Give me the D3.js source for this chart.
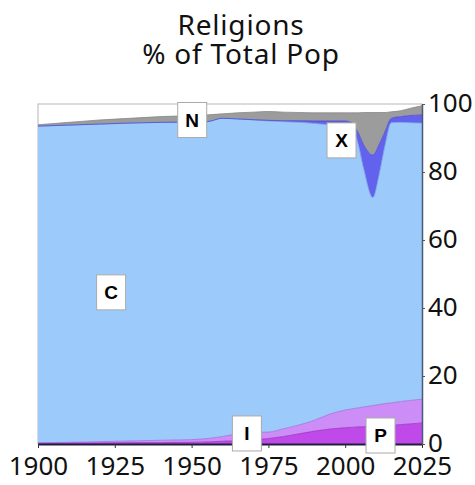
<!DOCTYPE html>
<html><head><meta charset="utf-8">
<script src="https://cdn.jsdelivr.net/npm/d3@7"></script>
<style>body{margin:0;background:#fff}svg{display:block}</style>
</head><body>
<script>
const years = [1900,1910,1920,1930,1940,1950,1955,1960,1965,1970,1975,1980,1985,1990,1995,2000,2002,2004,2006,2009,2011,2013,2015,2018,2021,2025];
// cumulative tops
const pTop = [0.2,0.3,0.3,0.4,0.4,0.5,0.6,0.8,1.0,1.2,1.6,2.2,3.0,3.8,4.4,4.8,4.9,5.0,5.1,5.2,5.3,5.4,5.5,5.7,5.9,6.2];
const iTop = [0.4,0.5,0.7,0.9,1.1,1.3,1.6,2.2,3.0,3.4,3.5,4.5,5.6,7.0,8.8,10.0,10.3,10.6,10.9,11.3,11.6,11.9,12.1,12.5,12.8,13.2];
const cTop = [93.5,93.8,94.1,94.4,94.6,94.7,94.8,95.8,95.6,95.3,95.0,94.8,94.6,94.3,93.9,93.6,93.2,89.0,81.0,72.5,79.0,88.0,94.5,94.6,94.5,94.4];
const xTop = [93.5,93.8,94.1,94.4,94.6,94.7,94.8,95.8,95.6,95.4,95.2,95.1,95.1,95.0,95.0,95.0,94.6,92.0,88.0,85.0,88.0,92.0,95.8,96.3,96.6,96.8];
const nTop = [93.9,94.6,95.3,95.8,96.3,96.6,96.8,97.1,97.4,97.6,97.8,97.6,97.5,97.4,97.4,97.4,97.4,97.4,97.5,97.5,97.5,97.5,97.7,98.0,98.7,99.5];
const keys = ["P","I","C","X","N"];
const xTicks = [1900,1925,1950,1975,2000,2025];
const yTicks = [0,20,40,60,80,100];
const labels = [
  {t:"N", year:1950.2, v:95.3},
  {t:"X", year:1998.8, v:89.3},
  {t:"C", year:1923.8, v:44.6},
  {t:"I", year:1968, v:3.1},
  {t:"P", year:2011.5, v:2.5}
];

const W=475,H=485;
const m={l:38,r:53,t:104,b:41};
const svg=d3.select("body").append("svg").attr("width",W).attr("height",H);
const x=d3.scaleLinear().domain([1900,2025]).range([m.l,W-m.r]);
const y=d3.scaleLinear().domain([0,100]).range([H-m.b,m.t]);

const rows = years.map((yr,i)=>({year:yr,
  P:pTop[i], I:iTop[i]-pTop[i], C:cTop[i]-iTop[i], X:xTop[i]-cTop[i], N:nTop[i]-xTop[i]}));
const series=d3.stack().keys(keys)(rows);
const fills={P:"#c04ae9",I:"#cc8df6",C:"#9ccbfb",X:"#6262ee",N:"#9c9c9c"};
const strokes={P:"#9a30c0",I:"#a070d8",C:"#7aa0e0",X:"#4a4ad0",N:"#888"};

svg.append("rect").attr("x",m.l).attr("y",m.t).attr("width",W-m.l-m.r).attr("height",H-m.t-m.b)
  .attr("fill","#fff").attr("stroke","#c4c4c4").attr("stroke-width",1.2);

const area=d3.area().x(d=>x(d.data.year)).y0(d=>y(d[0])).y1(d=>y(d[1])).curve(d3.curveMonotoneX);
const line=d3.line().x(d=>x(d.data.year)).y(d=>y(d[1])).curve(d3.curveMonotoneX);
svg.append("g").selectAll("path").data(series).join("path")
  .attr("d",area).attr("fill",d=>fills[d.key]);
svg.append("g").selectAll("path").data(series).join("path")
  .attr("d",line).attr("fill","none").attr("stroke",d=>strokes[d.key]).attr("stroke-width",0.8);

const font="Noto Sans, Open Sans, sans-serif";
// axes
const xa=svg.append("g").attr("transform",`translate(0,${H-m.b})`)
  .call(d3.axisBottom(x).tickValues(xTicks).tickFormat(d3.format("d")).tickSize(4).tickSizeOuter(0).tickPadding(6));
xa.select(".domain").attr("stroke","#1e1e3a").attr("stroke-width",2);
xa.selectAll(".tick line").attr("stroke","#333");
xa.selectAll("text").attr("font-family",font).attr("font-size",26).attr("fill","#111").attr("dy","0.8em");

const ya=svg.append("g").attr("transform",`translate(${W-m.r},0)`)
  .call(d3.axisRight(y).tickValues(yTicks).tickSize(3).tickSizeOuter(0).tickPadding(3));
ya.select(".domain").attr("stroke","#4a5a7a").attr("stroke-width",1.5);
ya.selectAll(".tick line").attr("stroke","#555");
ya.selectAll("text").attr("font-family",font).attr("font-size",26).attr("fill","#111").attr("dy","0.3em");

// labels
const lg=svg.append("g").selectAll("g").data(labels).join("g")
  .attr("transform",d=>`translate(${x(d.year)},${y(d.v)})`);
lg.append("rect").attr("x",-14.5).attr("y",-17.5).attr("width",29).attr("height",35)
  .attr("fill","#fff").attr("stroke","#aaa").attr("stroke-width",1);
lg.append("text").text(d=>d.t).attr("text-anchor","middle").attr("dy","0.36em")
  .attr("font-family","Liberation Sans, Arial, sans-serif").attr("font-weight","bold").attr("font-size",19).attr("fill","#000");

// title
const tt=svg.append("text").attr("text-anchor","middle").attr("font-family",font)
  .attr("font-size",28).attr("letter-spacing",0.8).attr("fill","#111");
tt.append("tspan").attr("x",241).attr("y",35).text("Religions");
tt.append("tspan").attr("x",241).attr("y",64).text("% of Total Pop");
</script>
</body></html>
